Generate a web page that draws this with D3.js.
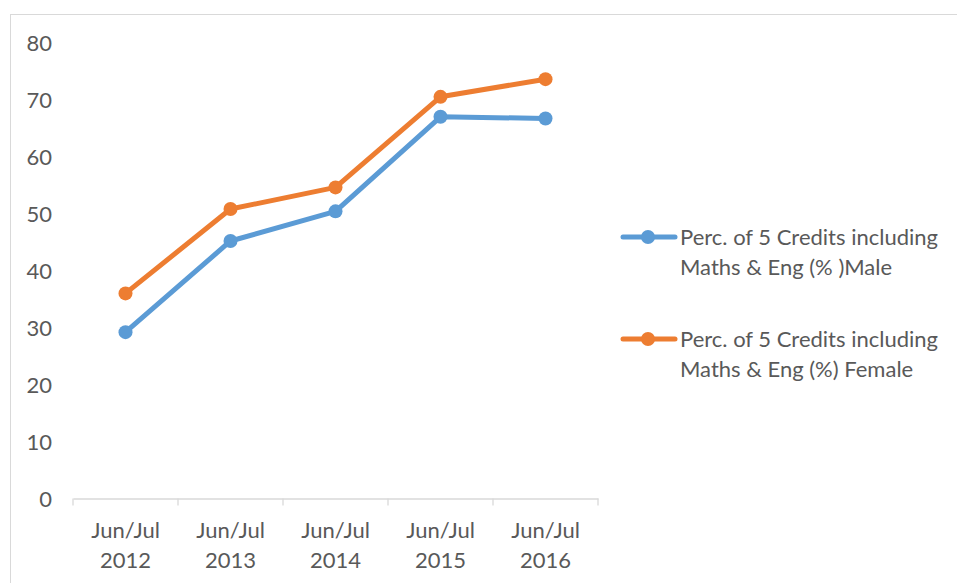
<!DOCTYPE html>
<html>
<head>
<meta charset="utf-8">
<script src="https://cdn.jsdelivr.net/npm/d3@7"></script>
<style>
  html, body { margin: 0; padding: 0; background: #fff; }
  svg { display: block; }
  text { font-family: Lato, "Open Sans", sans-serif; fill: #595959; }
</style>
</head>
<body>
<svg id="chart" width="957" height="583"></svg>
<script>
const categories = ["Jun/Jul 2012", "Jun/Jul 2013", "Jun/Jul 2014", "Jun/Jul 2015", "Jun/Jul 2016"];
const maleValues = [29.2, 45.2, 50.4, 67.0, 66.7];
const femaleValues = [36.0, 50.8, 54.6, 70.5, 73.6];
const seriesNames = ["Perc. of 5 Credits including Maths & Eng (% )Male", "Perc. of 5 Credits including Maths & Eng (%) Female"];
const seriesLegendLines = [["Perc. of 5 Credits including", "Maths & Eng (% )Male"], ["Perc. of 5 Credits including", "Maths & Eng (%) Female"]];
const seriesColors = ["#5b9bd5", "#ed7d31"];
const yTicks = [0, 10, 20, 30, 40, 50, 60, 70, 80];

const svg = d3.select("#chart");

// outer chart border
svg.append("rect")
  .attr("x", 10.5).attr("y", 14.5)
  .attr("width", 1000).attr("height", 1000)
  .attr("fill", "none").attr("stroke", "#d9d9d9").attr("stroke-width", 1);

const plot = { left: 73, right: 598, top: 42.7, bottom: 498.5 };

const x = d3.scaleBand().domain(categories).range([plot.left, plot.right]).padding(0);
const y = d3.scaleLinear().domain([0, 80]).range([plot.bottom, plot.top]);

// Y axis labels (no axis line)
const yAxis = d3.axisLeft(y).tickValues(yTicks).tickSize(0).tickPadding(0);
const yG = svg.append("g").attr("transform", "translate(52,0)").call(yAxis);
yG.select(".domain").remove();
yG.selectAll("text").style("font-size", "22px").attr("fill", "#595959").attr("dy", "0.35em");

// X axis
const xAxis = d3.axisBottom(x).tickSize(0).tickFormat("");
const xG = svg.append("g").attr("transform", `translate(0,${plot.bottom})`).call(xAxis);
xG.select(".domain").attr("stroke", "#d9d9d9").attr("stroke-width", 1.3);
xG.selectAll(".tick").remove();
// category boundary ticks
const boundaries = categories.map(c => x(c)).concat([x(categories[categories.length - 1]) + x.bandwidth()]);
xG.selectAll("line.bt").data(boundaries).enter().append("line")
  .attr("class", "bt")
  .attr("x1", d => d).attr("x2", d => d)
  .attr("y1", 0).attr("y2", 7)
  .attr("stroke", "#d9d9d9").attr("stroke-width", 1.3);
// category labels (two lines)
const labels = xG.selectAll("text.cat").data(categories).enter().append("text")
  .attr("class", "cat")
  .attr("text-anchor", "middle")
  .style("font-size", "22px")
  .attr("transform", d => `translate(${x(d) + x.bandwidth() / 2},0)`);
labels.append("tspan").attr("x", 0).attr("y", 39).text(d => d.split(" ")[0]);
labels.append("tspan").attr("x", 0).attr("y", 69).text(d => d.split(" ")[1]);

// Lines
const line = d3.line().x((d, i) => x(categories[i]) + x.bandwidth() / 2).y(d => y(d));
const allSeries = [maleValues, femaleValues];
allSeries.forEach((vals, si) => {
  svg.append("path").datum(vals)
    .attr("d", line)
    .attr("fill", "none")
    .attr("stroke", seriesColors[si])
    .attr("stroke-width", 5)
    .attr("stroke-linejoin", "round")
    .attr("stroke-linecap", "round");
  svg.selectAll(null).data(vals).enter().append("circle")
    .attr("cx", (d, i) => x(categories[i]) + x.bandwidth() / 2)
    .attr("cy", d => y(d))
    .attr("r", 7)
    .attr("fill", seriesColors[si]);
});

// Legend
const legendY = [237, 339];
seriesLegendLines.forEach((lines, si) => {
  const g = svg.append("g").attr("transform", `translate(0,${legendY[si]})`);
  g.append("line").attr("x1", 623).attr("x2", 675).attr("y1", 0).attr("y2", 0)
    .attr("stroke", seriesColors[si]).attr("stroke-width", 5).attr("stroke-linecap", "round");
  g.append("circle").attr("cx", 648).attr("cy", 0).attr("r", 7).attr("fill", seriesColors[si]);
  const t = g.append("text").attr("x", 680).style("font-size", "22px");
  t.append("tspan").attr("x", 680).attr("y", 8).text(lines[0]);
  t.append("tspan").attr("x", 680).attr("y", 38).text(lines[1]);
});
</script>
</body>
</html>
